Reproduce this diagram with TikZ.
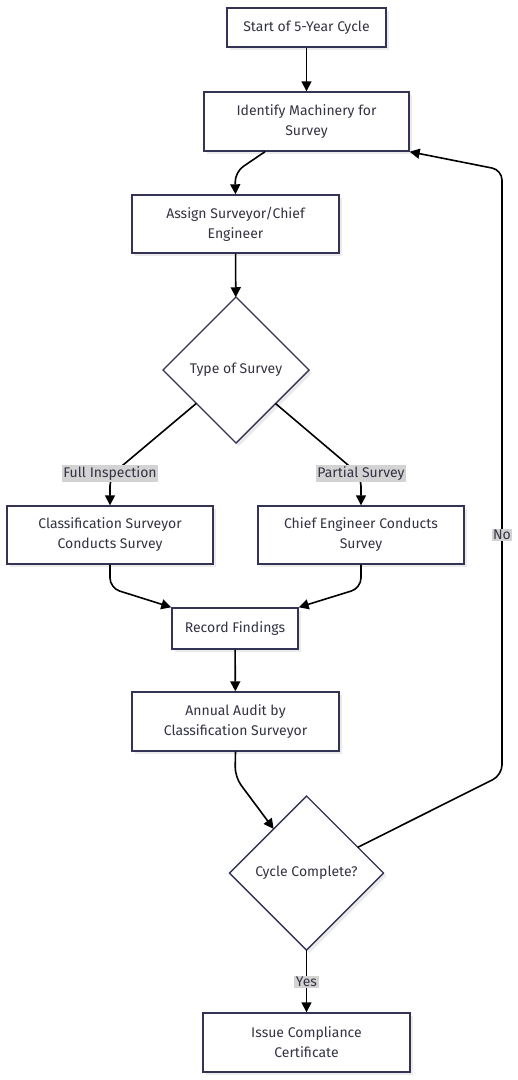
\documentclass[tikz,border=0pt]{standalone}
\usepackage{fontspec}
\setmainfont{Fira Sans}
\usetikzlibrary{arrows.meta,shapes.geometric,shadows}
\definecolor{boxline}{HTML}{333355}
\definecolor{txt}{HTML}{333344}
\definecolor{lblbg}{HTML}{D3D3D3}
\begin{document}
\begin{tikzpicture}[x=1pt,y=-1pt,
  every node/.style={font=\fontsize{14}{20}\selectfont, text=txt},
  box/.style={draw=boxline, line width=1.4pt, fill=white, align=center, inner sep=0pt,
    drop shadow={shadow xshift=3pt, shadow yshift=-3pt, fill=black, opacity=0.08}},
  dec/.style={diamond, aspect=1, draw=boxline, line width=1.4pt, fill=white, inner sep=0pt, outer sep=0pt,
    drop shadow={shadow xshift=3pt, shadow yshift=-3pt, fill=black, opacity=0.08}},
  edge/.style={draw=black, line width=1.6pt, rounded corners=10pt},
  arr/.style={edge, -{Triangle[length=10pt,width=10pt]}},
  lbl/.style={fill=lblbg, inner sep=1.5pt, text=txt, sharp corners, draw=none}]
\useasboundingbox (0,0) rectangle (518,1080);
\fill[white] (0,0) rectangle (518,1080);

\node[box, minimum width=159pt, minimum height=39pt] (start) at (306.5,27.5) {Start of 5-Year Cycle};
\node[box, minimum width=205pt, minimum height=59pt] (ident) at (306.5,121.5) {Identify Machinery for\\Survey};
\node[box, minimum width=207pt, minimum height=58pt] (assign) at (235.5,224) {Assign Surveyor/Chief\\Engineer};
\node[dec, minimum width=146pt, minimum height=146pt] (type) at (236,370) {Type of Survey};
\node[box, minimum width=206pt, minimum height=58pt] (class) at (110,535) {Classification Surveyor\\Conducts Survey};
\node[box, minimum width=206pt, minimum height=58pt] (chief) at (361,535) {Chief Engineer Conducts\\Survey};
\node[box, minimum width=126pt, minimum height=41pt] (record) at (235,628.5) {Record Findings};
\node[box, minimum width=207pt, minimum height=59pt] (annual) at (235.5,721.5) {Annual Audit by\\Classification Surveyor};
\node[dec, minimum width=154pt, minimum height=154pt] (cycle) at (306.5,873) {Cycle Complete?};
\node[box, minimum width=207pt, minimum height=59pt] (issue) at (306.5,1042.5) {Issue Compliance\\Certificate};

\draw[arr] (start) -- (ident);
\draw[arr] ([xshift=-41.5pt]ident.south) -- (235,172) -- (assign.north);
\draw[arr] (assign) -- (type);
\draw[arr] (type) -- (110,476) -- (class.north);
\draw[arr] (type) -- (361,476) -- (chief.north);
\draw[arr] (class.south) -- (110,588) -- (record.north west);
\draw[arr] (chief.south) -- (361,588) -- (record.north east);
\draw[arr] (record) -- (annual);
\draw[arr] (annual.south) -- (235,777) -- (cycle);
\draw[arr] (cycle) -- (issue);
\draw[arr] (cycle) -- (502,775) -- (502,170) -- (ident.south east);

\node[lbl] (lfull) at (110,473.5) {Full Inspection};
\node[lbl] (lpart) at (361,473.5) {Partial Survey};
\node[lbl] (lyes) at (306.5,982) {Yes};
\node[lbl] (lno) at (502,535) {No};
\end{tikzpicture}
\end{document}
